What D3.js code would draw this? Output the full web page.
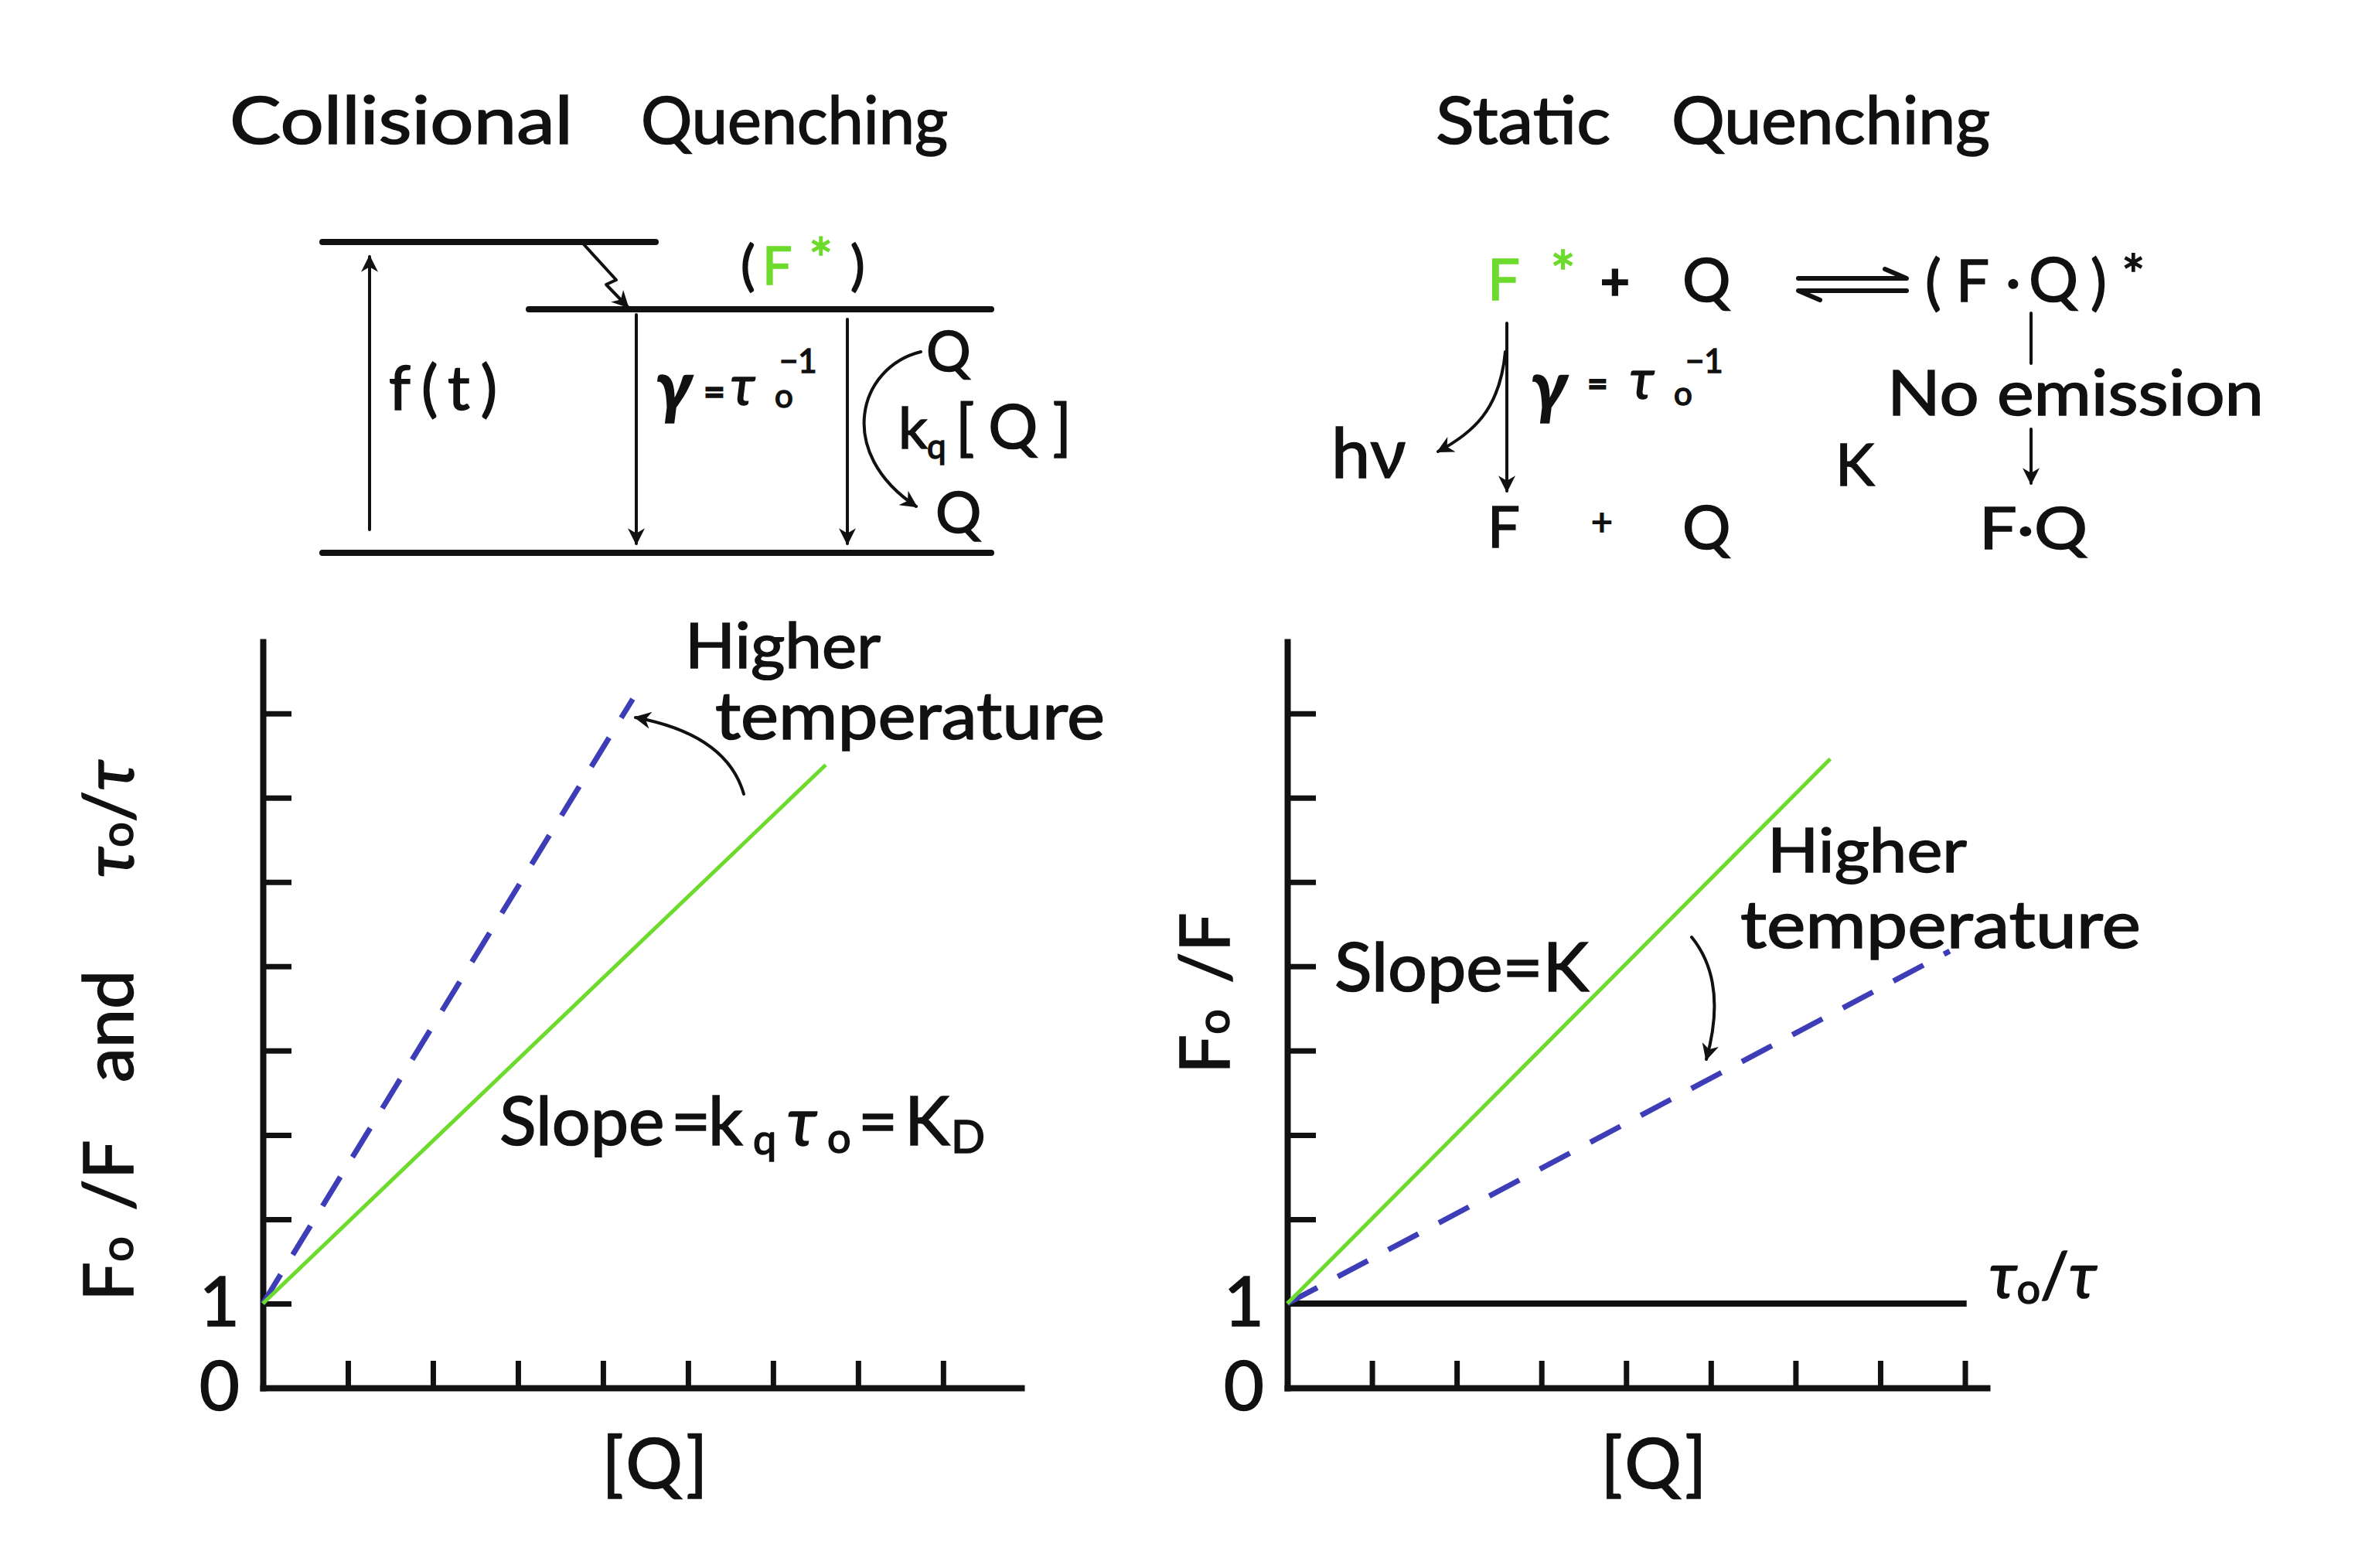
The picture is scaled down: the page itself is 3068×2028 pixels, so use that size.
<!DOCTYPE html>
<html><head><meta charset="utf-8">
<script src="https://cdn.jsdelivr.net/npm/d3@7"></script>
<style>
html,body{margin:0;padding:0;background:#fff;}
svg{display:block;color:#111;}
text{font-family:Lato,"Open Sans","DejaVu Sans",sans-serif;color:#111;fill:currentColor;stroke:currentColor;stroke-width:1.6px;white-space:pre;}
</style></head><body>
<svg id="chart" width="3068" height="2028"></svg>
<script>
// ---------------- data ----------------
const xTickValues = [1, 2, 3, 4, 5, 6, 7, 8];
const yTickValues = [0, 1, 2, 3, 4, 5, 6, 7, 8];
const yTickLabels = ["0", "1"];
// [Q] (arbitrary units), F0/F
const collisionalLine = [[0, 1], [6.62, 7.39]];
const collisionalHigherT = [[0, 1], [4.35, 8.17]];
const staticLine = [[0, 1], [6.41, 7.46]];
const staticHigherT = [[0, 1], [7.82, 5.18]];
const staticLifetime = [[0, 1], [8.02, 1]];

// ---------------- setup ----------------
const svg = d3.select("#chart");
const GREEN = "#6cdb2c", BLUE = "#3d3db8", INK = "#111";
const defs = svg.append("defs");
defs.append("marker").attr("id", "ah").attr("viewBox", "0 0 10 10")
  .attr("refX", 9).attr("refY", 5).attr("markerWidth", 26).attr("markerHeight", 22)
  .attr("markerUnits", "userSpaceOnUse").attr("orient", "auto")
  .append("path").attr("d", "M0,0 L10,5 L0,10 L3,5 Z").attr("fill", INK);

function txt(x, y, s, size, o = {}) {
  const t = svg.append("text").attr("x", x).attr("y", y).attr("font-size", size).text(s);
  if (o.anchor) t.attr("text-anchor", o.anchor);
  if (o.fill) t.style("color", o.fill);
  if (o.italic) t.attr("font-style", "italic");
  if (o.bold) t.attr("font-weight", "bold");
  if (o.len) t.attr("textLength", o.len).attr("lengthAdjust", o.adjust || "spacingAndGlyphs");
  return t;
}
function line(x1, y1, x2, y2, w, arrow) {
  const l = svg.append("line").attr("x1", x1).attr("y1", y1).attr("x2", x2).attr("y2", y2)
    .attr("stroke", INK).attr("stroke-width", w).attr("stroke-linecap", "round");
  if (arrow) l.attr("marker-end", "url(#ah)");
  return l;
}
function path(d, w, arrow) {
  const p = svg.append("path").attr("d", d).attr("fill", "none").attr("stroke", INK)
    .attr("stroke-width", w).attr("stroke-linecap", "round").attr("stroke-linejoin", "round");
  if (arrow) p.attr("marker-end", "url(#ah)");
  return p;
}

// ---------------- titles ----------------
txt(297, 186, "Collisional", 86, {len: 444});
txt(829, 186, "Quenching", 86, {len: 397});
txt(1857, 186, "Static", 86, {len: 226});
txt(2162, 186, "Quenching", 86, {len: 412});

// ---------------- left energy diagram ----------------
line(417, 313, 848, 313, 8);
line(684, 400, 1282, 400, 8);
line(417, 715, 1282, 715, 8);
line(478, 685, 478, 332, 4, true);
path("M755,316 L797,362 L784,368 L812,397", 4, true);
line(823, 407, 823, 703, 4, true);
line(1096, 413, 1096, 703, 4, true);
path("M1191,455 C1110,475 1080,585 1185,655", 4, true);
txt(503, 530, "f(t)", 80, {len: 140, adjust: "spacing"});
txt(958, 368, "(", 70);
txt(986, 368, "F", 68, {fill: GREEN});
txt(1046, 362, "*", 74, {fill: GREEN});
txt(1100, 368, ")", 70);
txt(848, 532, "γ", 90, {italic: true, bold: true});
txt(910, 524, "=", 48, {bold: true});
txt(945, 524, "τ", 72, {italic: true});
txt(1002, 527, "o", 42);
txt(1008, 482, "−1", 42);
txt(1198, 480, "Q", 72);
txt(1162, 580, "k", 74);
txt(1199, 593, "q", 44);
txt(1236, 580, "[Q]", 80, {len: 150, adjust: "spacing"});
txt(1210, 689, "Q", 74);

// ---------------- right reaction scheme ----------------
txt(1924, 388, "F", 74, {fill: GREEN});
txt(2005, 382, "*", 78, {fill: GREEN});
txt(2089, 388, "+", 66, {anchor: "middle", bold: true});
txt(2176, 390, "Q", 78);
path("M2326,360 L2466,360 L2438,348", 6);
path("M2466,376 L2326,376 L2354,388", 6);
txt(2490, 392, "(", 78);
txt(2530, 390, "F", 76);
txt(2594, 390, "·", 76);
txt(2624, 390, "Q", 80);
txt(2704, 392, ")", 78);
txt(2744, 382, "*", 72);
line(2627, 405, 2627, 470, 4);
txt(2441, 537, "No emission", 82, {len: 487});
line(2627, 555, 2627, 625, 4, true);
txt(2374, 628, "K", 76);
txt(1924, 708, "F", 74);
txt(2072, 692, "+", 48, {anchor: "middle"});
txt(2176, 710, "Q", 78);
txt(2560, 710, "F·Q", 76, {len: 140});
line(1949, 418, 1949, 635, 4, true);
path("M1947,455 C1940,530 1905,560 1860,584", 4, true);
txt(1722, 618, "hν", 90);
txt(1980, 532, "γ", 90, {italic: true, bold: true});
txt(2053, 512, "=", 46, {bold: true});
txt(2108, 516, "τ", 72, {italic: true});
txt(2165, 524, "o", 42);
txt(2180, 482, "−1", 42);

// ---------------- plots ----------------
const yScale = d3.scaleLinear().domain([0, 8.85]).range([1795, 830]);
const panels = [
  {x: d3.scaleLinear().domain([0, 8.92]).range([340, 1321])},
  {x: d3.scaleLinear().domain([0, 8.26]).range([1665, 2570])}
];

function drawAxes(x) {
  const g = svg.append("g");
  const xa = d3.axisBottom(x).tickValues(xTickValues).tickSize(-35).tickSizeOuter(0).tickFormat("");
  const gx = g.append("g").attr("transform", `translate(0,${yScale(0)})`).call(xa);
  const ya = d3.axisLeft(yScale).tickValues(yTickValues).tickSize(-37).tickSizeOuter(0)
    .tickPadding(30).tickFormat(d => yTickLabels[d] || "");
  const gy = g.append("g").attr("transform", `translate(${x(0)},0)`).call(ya);
  [gx, gy].forEach(a => {
    a.select(".domain").attr("stroke", INK).attr("stroke-width", 8).attr("stroke-linecap", "square");
    a.selectAll(".tick line").attr("stroke", INK).attr("stroke-width", 7);
    a.selectAll(".tick text").attr("font-size", 90).attr("font-family", "Lato, sans-serif");
  });
}
function drawLine(x, data, color, width, dash) {
  const gen = d3.line().x(d => x(d[0])).y(d => yScale(d[1]));
  const p = svg.append("path").datum(data).attr("d", gen).attr("fill", "none")
    .attr("stroke", color).attr("stroke-width", width);
  if (dash) p.attr("stroke-dasharray", dash);
  return p;
}

// left panel
const xl = panels[0].x;
drawAxes(xl);
drawLine(xl, collisionalHigherT, BLUE, 7, "44 30");
drawLine(xl, collisionalLine, GREEN, 5);
txt(886, 864, "Higher", 82, {len: 253});
txt(925, 956, "temperature", 86, {len: 504});
path("M962,1027 Q940,950 822,928", 4, true);
{
  const t = txt(646, 1481, "", 88);
  t.append("tspan").attr("x", 646).text("Slope");
  t.append("tspan").attr("x", 868).text("=");
  t.append("tspan").attr("x", 916).text("k");
  t.append("tspan").attr("x", 974).attr("dy", 12).attr("font-size", 54).text("q");
  t.append("tspan").attr("x", 1018).attr("dy", -12).attr("font-style", "italic").text("τ");
  t.append("tspan").attr("x", 1070).attr("dy", 10).attr("font-size", 54).text("o");
  t.append("tspan").attr("x", 1110).attr("dy", -10).text("=");
  t.append("tspan").attr("x", 1170).text("K");
  t.append("tspan").attr("x", 1230).attr("dy", 10).attr("font-size", 58).text("D");
}
{
  const t = svg.append("text").attr("transform", "translate(172,1683) rotate(-90)").attr("font-size", 90);
  t.append("tspan").attr("x", 0).text("F");
  t.append("tspan").attr("font-size", 58).text("o");
  t.append("tspan").attr("x", 117).text("/F");
  t.append("tspan").attr("x", 283).text("and");
  t.append("tspan").attr("x", 548).attr("font-style", "italic").text("τ");
  t.append("tspan").attr("font-size", 58).text("o");
  t.append("tspan").text("/");
  t.append("tspan").attr("font-style", "italic").text("τ");
}
txt(847, 1925, "[Q]", 92, {anchor: "middle", len: 137, adjust: "spacing"});

// right panel
const xr = panels[1].x;
drawAxes(xr);
drawLine(xr, staticLifetime, INK, 8);
drawLine(xr, staticHigherT, BLUE, 7, "44 30");
drawLine(xr, staticLine, GREEN, 5);
txt(2286, 1128, "Higher", 80, {len: 258});
txt(2251, 1226, "temperature", 86, {len: 518});
path("M2188,1212 Q2235,1270 2207,1370", 4, true);
txt(1726, 1282, "Slope=K", 88, {len: 329});
{
  const t = txt(2573, 1678, "", 82);
  t.append("tspan").attr("font-style", "italic").text("τ");
  t.append("tspan").attr("font-size", 54).attr("dy", 8).text("o");
  t.append("tspan").attr("dy", -8).text("/");
  t.append("tspan").attr("font-style", "italic").text("τ");
}
{
  const t = svg.append("text").attr("transform", "translate(1590,1389) rotate(-90)").attr("font-size", 90);
  t.append("tspan").attr("x", 0).text("F");
  t.append("tspan").attr("font-size", 58).text("o");
  t.append("tspan").attr("x", 117).text("/F");
}
txt(2139, 1925, "[Q]", 92, {anchor: "middle", len: 137, adjust: "spacing"});
</script>
</body></html>
